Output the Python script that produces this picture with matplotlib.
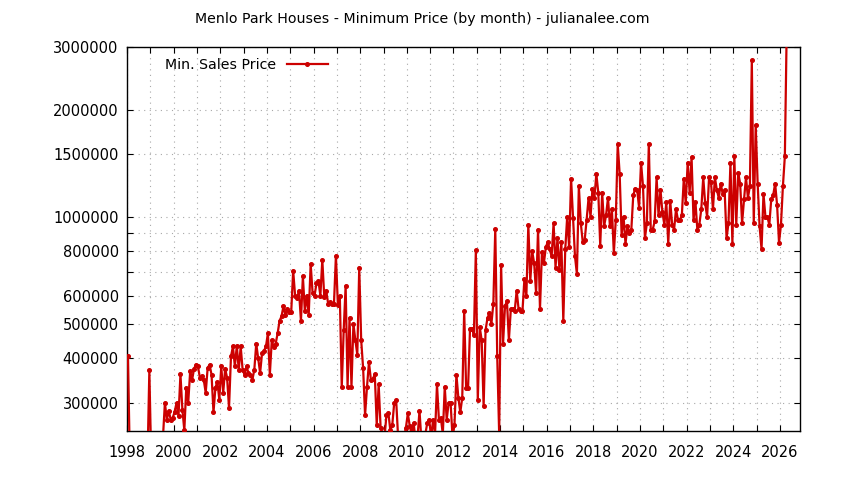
import matplotlib
matplotlib.use("Agg")
import matplotlib.pyplot as plt
from matplotlib.ticker import FixedLocator, NullFormatter
import numpy as np

LOW = 200000  # months below the visible range

years = list(range(1998, 2027))
prices = {
    1998: [407000, LOW, LOW, LOW, LOW, LOW, LOW, LOW, LOW, LOW, LOW, 370000],
    1999: [LOW, LOW, LOW, LOW, LOW, LOW, 240000, 300000, 269000, 285000, 269000, 272000],
    2000: [283000, 300000, 275000, 361000, 287000, 251000, 331000, 300000, 368000, 348000, 374000, 384000],
    2001: [380000, 353000, 356000, 348000, 320000, 376000, 384000, 360000, 282000, 331000, 344000, 306000],
    2002: [380000, 320000, 374000, 353000, 290000, 405000, 432000, 380000, 434000, 371000, 432000, 371000],
    2003: [360000, 380000, 364000, 360000, 348000, 371000, 440000, 401000, 364000, 414000, 420000, 432000],
    2004: [471000, 360000, 450000, 430000, 440000, 470000, 510000, 525000, 560000, 530000, 550000, 540000],
    2005: [540000, 706000, 600000, 590000, 620000, 510000, 680000, 545000, 600000, 530000, 737000, 610000],
    2006: [600000, 650000, 660000, 600000, 757000, 595000, 620000, 570000, 575000, 570000, 570000, 778000],
    2007: [565000, 600000, 333000, 480000, 640000, 333000, 520000, 333000, 500000, 450000, 410000, 720000],
    2008: [450000, 375000, 277000, 333000, 390000, 348000, 350000, 361000, 260000, 338000, 255000, 245000],
    2009: [240000, 277000, 281000, 251000, 260000, 300000, 305000, 240000, 240000, 245000, 240000, 255000],
    2010: [280000, 258000, 245000, 263000, 235000, 240000, 285000, 235000, 240000, 245000, 263000, 269000],
    2011: [240000, 269000, 245000, 338000, 269000, 272000, 245000, 333000, 269000, 300000, 300000, 240000],
    2012: [260000, 360000, 310000, 282000, 310000, 545000, 330000, 330000, 485000, 485000, 465000, 805000],
    2013: [305000, 490000, 450000, 293000, 480000, 520000, 535000, 500000, 570000, 925000, 405000, 245000],
    2014: [730000, 440000, 560000, 580000, 450000, 550000, 550000, 545000, 620000, 550000, 545000, 545000],
    2015: [670000, 600000, 950000, 660000, 800000, 740000, 610000, 920000, 550000, 795000, 740000, 820000],
    2016: [850000, 810000, 775000, 960000, 720000, 870000, 710000, 850000, 510000, 810000, 1000000, 820000],
    2017: [1280000, 995000, 775000, 690000, 1220000, 960000, 850000, 860000, 980000, 1130000, 1000000, 1200000],
    2018: [1130000, 1320000, 1170000, 830000, 1170000, 940000, 1010000, 1130000, 940000, 1050000, 790000, 980000],
    2019: [1600000, 1320000, 890000, 1000000, 840000, 940000, 900000, 920000, 1150000, 1200000, 1190000, 1060000],
    2020: [1420000, 1220000, 870000, 960000, 1600000, 920000, 920000, 970000, 1290000, 1010000, 1190000, 1030000],
    2021: [950000, 1100000, 840000, 1110000, 950000, 920000, 1050000, 980000, 980000, 1010000, 1280000, 1090000],
    2022: [1420000, 1170000, 1470000, 980000, 1100000, 915000, 950000, 1050000, 1290000, 1090000, 1000000, 1290000],
    2023: [1250000, 1050000, 1290000, 1190000, 1130000, 1240000, 1160000, 1190000, 870000, 960000, 1420000, 840000],
    2024: [1480000, 950000, 1330000, 1240000, 960000, 1120000, 1290000, 1130000, 1220000, 2750000, 960000, 1810000],
    2025: [1240000, 940000, 810000, 1160000, 1000000, 1000000, 950000, 1120000, 1150000, 1240000, 1080000, 845000],
    2026: [950000, 1220000, 1480000, 3500000],
}

y_major = [300000, 400000, 500000, 600000, 800000, 1000000, 1500000, 2000000, 3000000]
y_minor = [700000, 900000]
x_labels = list(range(1998, 2027, 2))

t, v = [], []
for yr in years:
    for m, p in enumerate(prices[yr]):
        t.append(yr + (m + 0.5) / 12.0)
        v.append(p)

fig = plt.figure(figsize=(8.44, 4.80), dpi=100)
ax = fig.add_axes([127/844, 1 - 431/480, (800 - 127)/844, (431 - 47)/480])
ax.plot(t, v, color='#cc0000', lw=1.6, marker='o', ms=2.6, mec='#cc0000',
        mfc='#cc0000', label='Min. Sales Price', zorder=3)
ax.set_yscale('log')
ax.set_ylim(250000, 3000000)
ax.set_xlim(1998, 2026 + 20/23.32)

ax.yaxis.set_major_locator(FixedLocator(y_major))
ax.yaxis.set_minor_locator(FixedLocator(y_minor))
ax.set_yticklabels([str(y) for y in y_major])
ax.yaxis.set_minor_formatter(NullFormatter())
ax.xaxis.set_major_locator(FixedLocator(x_labels))
ax.xaxis.set_minor_locator(FixedLocator(list(range(1999, 2027, 2))))
ax.set_xticklabels([str(x) for x in x_labels])

ax.tick_params(which='both', direction='in', top=True, right=True, labelsize=10.5,
               length=4, width=0.8)
ax.tick_params(axis='x', pad=10)
ax.tick_params(axis='y', pad=6)
ax.grid(True, which='both', color='#a8a8a8', linestyle=(0, (1, 4)), lw=0.8)
for s in ax.spines.values():
    s.set_linewidth(1.0)

fig.text(0.5, 1 - 19/480, 'Menlo Park Houses - Minimum Price (by month) - julianalee.com',
         ha='center', va='center', fontsize=10.2)

leg = ax.legend(loc='upper left', bbox_to_anchor=((165 - 127)/673, (431 - 58)/384),
                frameon=False, markerfirst=False, handlelength=2.9, handletextpad=0.75,
                borderpad=0, borderaxespad=0, fontsize=10.2, numpoints=1)

fig.savefig('out.png', dpi=100)
